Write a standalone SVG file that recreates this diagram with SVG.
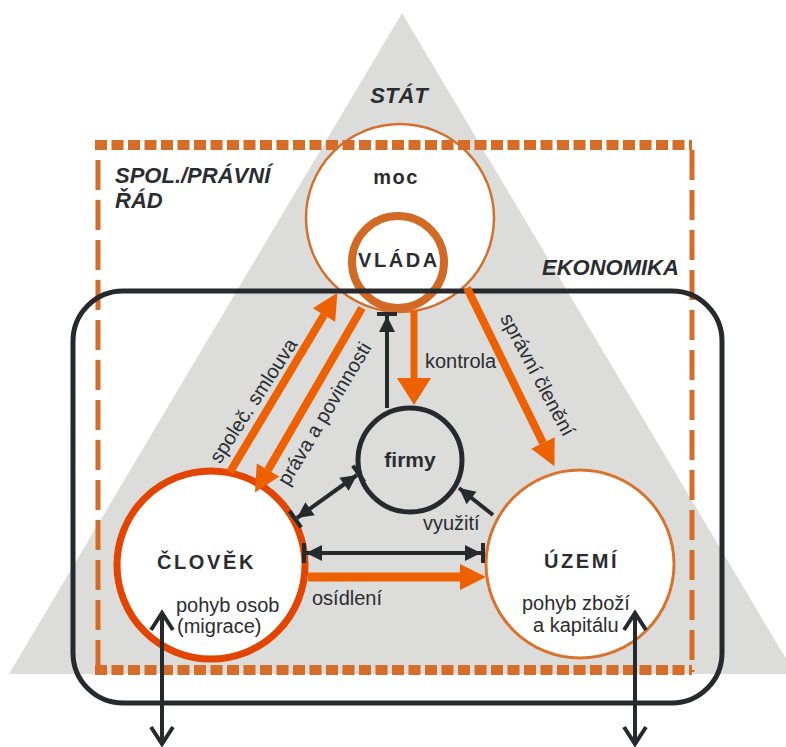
<svg xmlns="http://www.w3.org/2000/svg" width="786" height="747" viewBox="0 0 786 747">
<style>
text{font-family:"Liberation Sans",Arial,sans-serif;fill:#2a2d30}
.h{font-size:22px;font-weight:bold;font-style:italic}
.n{font-size:20px;font-weight:bold;letter-spacing:2.6px}
.l{font-size:20px}
.blk{stroke:#262a2d;stroke-width:4;fill:none}
.org{stroke:#ee6100;fill:none}
</style>
<defs>
<marker id="oh" markerUnits="userSpaceOnUse" viewBox="0 -20 32 40" markerWidth="32" markerHeight="40" refX="0" refY="0" orient="auto" overflow="visible"><path d="M0,-13 L26,0 L0,13 z" fill="#ee6100"/></marker>
<marker id="ohk" markerUnits="userSpaceOnUse" viewBox="0 -20 32 40" markerWidth="32" markerHeight="40" refX="0" refY="0" orient="auto" overflow="visible"><path d="M0,-17 L27,0 L0,17 z" fill="#ee6100"/></marker>
<marker id="bh" markerUnits="userSpaceOnUse" viewBox="-20 -12 26 24" markerWidth="26" markerHeight="24" refX="0" refY="0" orient="auto-start-reverse" overflow="visible"><path d="M-16,-8 L0,0 L-16,8 z" fill="#262a2d"/><rect x="0" y="-10" width="4" height="20" fill="#262a2d"/></marker>
<marker id="ah" markerUnits="userSpaceOnUse" viewBox="-20 -12 24 24" markerWidth="24" markerHeight="24" refX="0" refY="0" orient="auto-start-reverse" overflow="visible"><path d="M-16,-8 L0,0 L-16,8 z" fill="#262a2d"/></marker>
<marker id="ch" markerUnits="userSpaceOnUse" viewBox="-20 -14 24 28" markerWidth="24" markerHeight="28" refX="0" refY="0" orient="auto-start-reverse" overflow="visible"><path d="M-17,-11 L0,0 L-17,11" fill="none" stroke="#262a2d" stroke-width="4"/></marker>
</defs>

<g id="stat">
<polygon points="402,13 9,674 795,674" fill="#dcdcdb"/>
<text class="h" x="399" y="103" text-anchor="middle">STÁT</text>
</g>

<g id="moc">
<circle cx="400" cy="218" r="94" fill="#fff" stroke="#d4702e" stroke-width="2.5"/>
<text x="396" y="184" text-anchor="middle" style="font-size:20px;font-weight:bold;letter-spacing:1.5px">moc</text>
</g>

<g id="vlada">
<circle cx="398" cy="262" r="46" fill="#fff" stroke="#d26a25" stroke-width="8"/>
<text class="n" x="358" y="267">VLÁDA</text>
</g>

<g id="firmy">
<circle cx="410" cy="460" r="52" fill="none" stroke="#262a2d" stroke-width="5"/>
<text x="410" y="467" text-anchor="middle" style="font-size:21px;font-weight:bold">firmy</text>
</g>

<g id="clovek">
<circle cx="211" cy="565" r="94" fill="#fff" stroke="#e34400" stroke-width="7"/>
<text class="n" x="157" y="569">ČLOVĚK</text>
<text class="l" x="176" y="612">pohyb osob</text>
<text class="l" x="177" y="633">(migrace)</text>
</g>

<g id="uzemi">
<circle cx="580" cy="564" r="94" fill="#fff" stroke="#d9732c" stroke-width="3"/>
<text class="n" x="544" y="568">ÚZEMÍ</text>
<text class="l" x="522" y="610">pohyb zboží</text>
<text class="l" x="533" y="632">a kapitálu</text>
</g>

<g id="spol-pravni-rad">
<line x1="95" y1="145" x2="692" y2="145" stroke="#d56c27" stroke-width="10" stroke-dasharray="12 4.5"/>
<line x1="95" y1="670" x2="692" y2="670" stroke="#d56c27" stroke-width="10" stroke-dasharray="12 4.5"/>
<line x1="98" y1="160" x2="98" y2="672" stroke="#d56c27" stroke-width="5" stroke-dasharray="30 10"/>
<line x1="692" y1="150" x2="692" y2="672" stroke="#d56c27" stroke-width="5" stroke-dasharray="30 10"/>
<text class="h" x="115" y="183">SPOL./PRÁVNÍ</text>
<text class="h" x="115" y="208">ŘÁD</text>
</g>

<g id="ekonomika">
<rect x="73" y="291" width="649" height="412" rx="50" ry="50" fill="none" stroke="#262a2d" stroke-width="5"/>
<text class="h" x="542" y="275">EKONOMIKA</text>
</g>

<g id="connectors">
<line class="org" x1="230" y1="472" x2="324" y2="315" stroke-width="8" marker-end="url(#oh)"/>
<line class="org" x1="362" y1="308" x2="268" y2="470" stroke-width="8" marker-end="url(#oh)"/>
<line class="org" x1="414" y1="310" x2="414" y2="378" stroke-width="7" marker-end="url(#ohk)"/>
<line class="org" x1="467" y1="288" x2="543" y2="443" stroke-width="8" marker-end="url(#oh)"/>
<line class="org" x1="308" y1="577" x2="460" y2="577" stroke-width="9" marker-end="url(#oh)"/>
<line class="blk" x1="387" y1="408" x2="387" y2="316" marker-end="url(#bh)"/>
<line class="blk" x1="297" y1="518" x2="357" y2="475" stroke-width="3.5" marker-start="url(#bh)" marker-end="url(#bh)"/>
<line class="blk" x1="306" y1="553" x2="481" y2="553" marker-start="url(#bh)" marker-end="url(#bh)"/>
<line class="blk" x1="493" y1="515" x2="459" y2="488" marker-end="url(#ah)"/>
<line class="blk" x1="162" y1="613" x2="162" y2="744" marker-start="url(#ch)" marker-end="url(#ch)"/>
<line class="blk" x1="635" y1="613" x2="635" y2="744" marker-start="url(#ch)" marker-end="url(#ch)"/>
<text class="l" transform="translate(254,401) rotate(-57)" y="6" text-anchor="middle">společ. smlouva</text>
<text class="l" transform="translate(325,414) rotate(-59)" y="6" text-anchor="middle">práva a povinnosti</text>
<text class="l" transform="translate(537,375) rotate(62)" y="6" text-anchor="middle">správní členění</text>
<text class="l" x="425" y="368">kontrola</text>
<text class="l" x="312" y="605">osídlení</text>
<text class="l" x="423" y="530">využití</text>
</g>
</svg>
